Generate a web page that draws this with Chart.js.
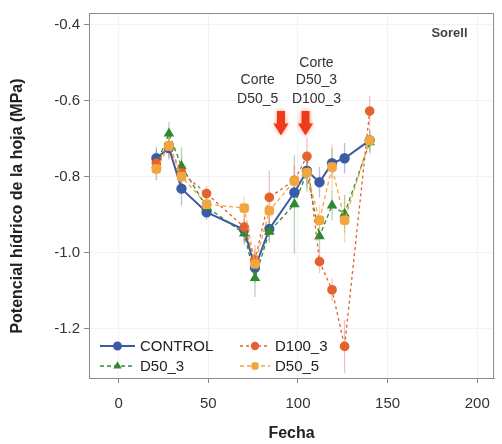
<!DOCTYPE html>
<html>
<head>
<meta charset="utf-8">
<script src="https://cdn.jsdelivr.net/npm/chart.js@4.4.0/dist/chart.umd.min.js"></script>
<style>
  body { margin: 0; background: #fff; }
  canvas { display: block; }
</style>
</head>
<body>
<canvas id="chart" width="502" height="444"></canvas>
<script>
// measurement days
const fechas = [21, 28, 35, 49, 70, 76, 84, 98, 105, 112, 119, 126, 140];

// leaf water potential (MPa), mean per treatment
const control = [-0.752, -0.725, -0.832, -0.894, -0.94, -1.04, -0.938, -0.842, -0.785, -0.815, -0.765, -0.752, -0.705];
const d50_3   = [-0.77, -0.687, -0.773, -0.88, -0.95, -1.067, -0.945, -0.873, -0.79, -0.957, -0.876, -0.898, -0.71];
const d100_3  = [-0.765, -0.72, -0.79, -0.845, -0.933, -1.02, -0.855, -0.81, -0.747, -1.024, -1.098, -1.247, -0.628];
const d50_5   = [-0.78, -0.72, -0.80, -0.873, -0.883, -1.03, -0.89, -0.812, -0.79, -0.915, -0.775, -0.915, -0.705];

// error bar half-widths
const controlErr = [0.03, 0.03, 0.045, 0.02, 0.03, 0.04, 0.03, 0.04, 0.04, 0.04, 0.04, 0.04, 0.03];
const d50_3Err   = [0.04, 0.03, 0.05, 0.02, 0.03, 0.05, 0.03, 0.13, 0.05, 0.04, 0.04, 0.05, 0.03];
const d100_3Err  = [0.03, 0.03, 0.04, 0.02, 0.04, 0.04, 0.07, 0.04, 0.05, 0.03, 0.03, 0.07, 0.04];
const d50_5Err   = [0.03, 0.03, 0.04, 0.02, 0.03, 0.04, 0.04, 0.04, 0.04, 0.04, 0.06, 0.06, 0.03];

const xTicks = [0, 50, 100, 150, 200];
const yTicks = [-0.4, -0.6, -0.8, -1.0, -1.2];

Chart.defaults.font.family = "'Liberation Sans', Arial, sans-serif";

function pts(vals) {
  return vals.map((v, i) => ({ x: fechas[i], y: v }));
}

function serie(label, vals, err, color, errColor, style, radius, dash, width, order) {
  return {
    label: label,
    data: pts(vals),
    err: err,
    errColor: errColor,
    borderColor: color,
    backgroundColor: color,
    pointBackgroundColor: color,
    pointBorderColor: color,
    pointStyle: style,
    pointRadius: radius,
    borderWidth: width,
    borderDash: dash,
    tension: 0,
    order: order
  };
}

const datasets = [
  serie('CONTROL', control, controlErr, '#3c5ba6', 'rgba(90,110,200,0.45)', 'circle', 4.2, [], 2, 4),
  serie('D50_3', d50_3, d50_3Err, '#2f8a2f', 'rgba(90,160,90,0.45)', 'triangle', 4.8, [4, 3], 1.3, 3),
  serie('D100_3', d100_3, d100_3Err, '#e4622e', 'rgba(240,110,110,0.45)', 'circle', 4.2, [3, 3], 1.3, 2),
  serie('D50_5', d50_5, d50_5Err, '#f2a63e', 'rgba(245,170,90,0.45)', 'rectRounded', 4.8, [4, 3], 1.3, 1)
];

function downArrow(ctx, cx, top, bottom) {
  const headH = 12, shaftW = 4, headW = 7.5;
  ctx.beginPath();
  ctx.moveTo(cx - shaftW, top);
  ctx.lineTo(cx + shaftW, top);
  ctx.lineTo(cx + shaftW, bottom - headH);
  ctx.lineTo(cx + headW, bottom - headH);
  ctx.lineTo(cx, bottom);
  ctx.lineTo(cx - headW, bottom - headH);
  ctx.lineTo(cx - shaftW, bottom - headH);
  ctx.closePath();
  ctx.fill();
}

const extras = {
  id: 'extras',
  beforeDatasetsDraw(chart) {
    const ctx = chart.ctx, x = chart.scales.x, y = chart.scales.y;
    chart.data.datasets.forEach(ds => {
      ctx.save();
      ctx.strokeStyle = ds.errColor;
      ctx.lineWidth = 1.3;
      ds.data.forEach((p, j) => {
        const px = x.getPixelForValue(p.x);
        ctx.beginPath();
        ctx.moveTo(px, y.getPixelForValue(p.y + ds.err[j]));
        ctx.lineTo(px, y.getPixelForValue(p.y - ds.err[j]));
        ctx.stroke();
      });
      ctx.restore();
    });
  },
  afterDraw(chart) {
    const ctx = chart.ctx, x = chart.scales.x, y = chart.scales.y;
    const a = chart.chartArea;
    ctx.save();

    // box round the plot
    ctx.strokeStyle = '#8a8a8a';
    ctx.lineWidth = 1;
    ctx.strokeRect(a.left + 0.5, a.top + 0.5, a.right - a.left - 1, a.bottom - a.top);

    // cut arrows
    ctx.fillStyle = '#f03a1c';
    ctx.shadowColor = 'rgba(255,110,60,0.7)';
    ctx.shadowBlur = 4;
    [90.5, 104.2].forEach(d => {
      downArrow(ctx, x.getPixelForValue(d), y.getPixelForValue(-0.628), y.getPixelForValue(-0.692));
    });
    ctx.shadowBlur = 0;

    // annotation text
    ctx.fillStyle = '#333';
    ctx.font = "14px 'Liberation Sans', Arial, sans-serif";
    ctx.textAlign = 'center';
    ctx.textBaseline = 'middle';
    const lx = x.getPixelForValue(77.5), rx = x.getPixelForValue(110.3);
    ctx.fillText('Corte', lx, y.getPixelForValue(-0.547));
    ctx.fillText('D50_5', lx, y.getPixelForValue(-0.597));
    ctx.fillText('Corte', rx, y.getPixelForValue(-0.501));
    ctx.fillText('D50_3', rx, y.getPixelForValue(-0.547));
    ctx.fillText('D100_3', rx, y.getPixelForValue(-0.597));

    ctx.fillStyle = '#444';
    ctx.font = "bold 13px 'Liberation Sans', Arial, sans-serif";
    ctx.fillText('Sorell', x.getPixelForValue(184.5), y.getPixelForValue(-0.423));

    // legend, two columns inside the plot
    const cols = [a.left + 11, a.left + 151];
    const rows = [a.bottom - 32, a.bottom - 12];
    ctx.font = "15px 'Liberation Sans', Arial, sans-serif";
    ctx.textAlign = 'left';
    chart.data.datasets.forEach((ds, i) => {
      const x0 = cols[Math.floor(i / 2)], yy = rows[i % 2];
      const len = i < 2 ? 35 : 30;
      ctx.strokeStyle = ds.borderColor;
      ctx.lineWidth = ds.borderWidth;
      ctx.setLineDash(ds.borderDash);
      ctx.beginPath();
      ctx.moveTo(x0, yy);
      ctx.lineTo(x0 + len, yy);
      ctx.stroke();
      ctx.setLineDash([]);
      ctx.fillStyle = ds.borderColor;
      Chart.helpers.drawPoint(ctx, { pointStyle: ds.pointStyle, radius: 3.5, borderWidth: 1 }, x0 + len / 2, yy);
      ctx.fillStyle = '#222';
      ctx.fillText(ds.label, x0 + len + 5, yy + 1);
    });

    // y axis title
    ctx.translate(17.5, 206);
    ctx.rotate(-Math.PI / 2);
    ctx.textAlign = 'center';
    ctx.fillStyle = '#222';
    ctx.font = "bold 16px 'Liberation Sans', Arial, sans-serif";
    ctx.fillText('Potencial hídrico de la hoja (MPa)', 0, 0);
    ctx.restore();
  }
};

new Chart(document.getElementById('chart'), {
  type: 'line',
  data: { datasets: datasets },
  options: {
    responsive: false,
    animation: false,
    layout: { padding: { top: 7, right: 5, left: 0, bottom: 0 } },
    plugins: { legend: { display: false }, tooltip: { enabled: false } },
    scales: {
      x: {
        type: 'linear',
        min: -16.6,
        max: 209.4,
        afterBuildTicks: s => { s.ticks = xTicks.map(v => ({ value: v })); },
        afterFit: s => { s.height = 66; },
        grid: { color: '#f2f2f2', tickColor: '#888', tickLength: 5 },
        border: { color: '#8a8a8a' },
        ticks: { color: '#333', font: { size: 15 }, padding: 12, maxRotation: 0 },
        title: { display: true, text: 'Fecha', color: '#222', font: { size: 16, weight: 'bold' }, padding: { top: 0, bottom: 1 } }
      },
      y: {
        type: 'linear',
        min: -1.33,
        max: -0.37,
        afterBuildTicks: s => { s.ticks = yTicks.map(v => ({ value: v })); },
        afterFit: s => { s.width = 89; },
        grid: { color: '#f2f2f2', tickColor: '#888', tickLength: 5 },
        border: { color: '#8a8a8a' },
        ticks: { color: '#333', font: { size: 15 }, padding: 4, callback: v => v.toFixed(1) }
      }
    }
  },
  plugins: [extras]
});
</script>
</body>
</html>
